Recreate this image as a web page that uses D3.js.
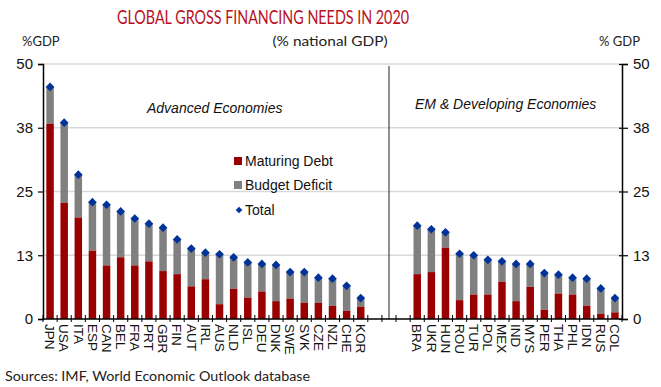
<!DOCTYPE html>
<html>
<head>
<meta charset="utf-8">
<script src="https://cdn.jsdelivr.net/npm/d3@7"></script>
<style>
  body { margin: 0; background: #fff; }
  svg { display: block; }
</style>
</head>
<body>
<svg width="661" height="387"></svg>
<script>
// Countries, in chart order (advanced, then EM)
var advanced = ["JPN","USA","ITA","ESP","CAN","BEL","FRA","PRT","GBR","FIN","AUT","IRL","AUS","NLD","ISL","DEU","DNK","SWE","SVK","CZE","NZL","CHE","KOR"];
var emerging = ["BRA","UKR","HUN","ROU","TUR","POL","MEX","IND","MYS","PER","THA","PHL","IDN","RUS","COL"];
var gaps = ["_g1","_g2","_g3"];

// % of GDP
var maturingAdv = [38.3,22.8,19.9,13.4,10.5,12.1,10.5,11.3,9.4,8.8,6.4,7.8,2.9,5.9,4.2,5.4,3.5,4.0,3.2,3.2,2.6,1.6,2.4];
var totalAdv    = [45.5,38.5,28.3,22.9,22.4,21.1,19.7,18.7,17.9,15.6,13.8,13.0,12.7,12.1,11.1,10.8,10.6,9.2,9.2,8.1,7.9,6.5,4.1];
var maturingEm  = [8.8,9.2,14.0,3.7,4.8,4.8,7.3,3.5,6.3,1.8,5.0,4.8,2.6,1.0,1.3];
var totalEm     = [18.3,17.6,17.0,12.8,12.5,11.6,11.3,10.8,10.8,9.0,8.7,8.1,7.9,6.0,4.1];

var yTicks = [0, 12.5, 25, 37.5, 50];

var svg = d3.select("svg"),
    margin = {top: 64, right: 39, bottom: 68, left: 43},
    width = +svg.attr("width") - margin.left - margin.right,
    height = +svg.attr("height") - margin.top - margin.bottom;

var rows = advanced.map(function(c, i) { return {c: c, m: maturingAdv[i], t: totalAdv[i]}; })
  .concat(emerging.map(function(c, i) { return {c: c, m: maturingEm[i], t: totalEm[i]}; }));

var slots = advanced.concat(gaps, emerging);

var x = d3.scaleBand().domain(slots).range([0, width]).paddingInner(0.47).paddingOuter(0.235);
var y = d3.scaleLinear().domain([0, 50]).range([height, 0]);

var g = svg.append("g").attr("transform", "translate(" + margin.left + "," + margin.top + ")");

// title + header texts
svg.append("text")
    .attr("x", 263).attr("y", 24)
    .attr("text-anchor", "middle")
    .attr("fill", "#b8101e")
    .attr("font-family", "Lato, 'Open Sans', sans-serif")
    .attr("font-size", 20)
    .attr("textLength", 292).attr("lengthAdjust", "spacingAndGlyphs")
    .text("GLOBAL GROSS FINANCING NEEDS IN 2020");

var head = svg.append("g").attr("font-family", "Lato, 'Open Sans', sans-serif").attr("font-size", 13).attr("fill", "#222");
head.append("text").attr("x", 22).attr("y", 46).text("%GDP");
head.append("text").attr("x", 330).attr("y", 46).attr("text-anchor", "middle")
    .attr("textLength", 115).attr("lengthAdjust", "spacingAndGlyphs").text("(% national GDP)");
head.append("text").attr("x", 640).attr("y", 46).attr("text-anchor", "end").text("% GDP");

// gridlines
g.append("g").selectAll("line")
  .data(yTicks.slice(1))
  .join("line")
    .attr("x1", 0).attr("x2", width)
    .attr("y1", function(d) { return y(d); }).attr("y2", function(d) { return y(d); })
    .attr("stroke", "#d9d9d9").attr("stroke-width", 1.5);

// section divider
var divX = x("_g2") + x.bandwidth() / 2;
g.append("line")
    .attr("x1", divX).attr("x2", divX)
    .attr("y1", y(50) + 2).attr("y2", y(0))
    .attr("stroke", "#222").attr("stroke-width", 1);

// bars: deficit on top of maturing debt
var bars = g.append("g").selectAll("g").data(rows).join("g");
bars.append("rect")
    .attr("x", function(d) { return x(d.c); })
    .attr("width", x.bandwidth())
    .attr("y", function(d) { return y(d.t); })
    .attr("height", function(d) { return y(d.m) - y(d.t); })
    .attr("fill", "#808080");
bars.append("rect")
    .attr("x", function(d) { return x(d.c); })
    .attr("width", x.bandwidth())
    .attr("y", function(d) { return y(d.m); })
    .attr("height", function(d) { return y(0) - y(d.m); })
    .attr("fill", "#990000");

// totals
var diamond = d3.symbol().type(d3.symbolDiamond2).size(48);
g.append("g").selectAll("path").data(rows).join("path")
    .attr("d", diamond)
    .attr("transform", function(d) { return "translate(" + (x(d.c) + x.bandwidth() / 2) + "," + y(d.t) + ")"; })
    .attr("fill", "#003399");

// x axis line + boundary ticks
g.append("line").attr("x1", 0).attr("x2", width).attr("y1", height).attr("y2", height)
    .attr("stroke", "#000").attr("stroke-width", 1.5);
g.append("g").selectAll("line")
  .data(d3.range(slots.length + 1))
  .join("line")
    .attr("x1", function(i) { return i * x.step(); })
    .attr("x2", function(i) { return i * x.step(); })
    .attr("y1", height - 4).attr("y2", height + 3)
    .attr("stroke", "#000").attr("stroke-width", 1);

// country labels, rotated
g.append("g").selectAll("text").data(rows).join("text")
    .attr("transform", function(d) { return "translate(" + (x(d.c) + x.bandwidth() / 2) + "," + (height + 5) + ") rotate(90)"; })
    .attr("dy", "0.35em")
    .attr("font-family", "'Liberation Sans', Arial, sans-serif")
    .attr("font-size", 13.5)
    .attr("fill", "#111")
    .text(function(d) { return d.c; });

// y axes, left and right
var fmt = function(d) { return Math.round(d); };
var yl = g.append("g").call(d3.axisLeft(y).tickValues(yTicks).tickFormat(fmt).tickSize(5).tickPadding(5));
var yr = g.append("g").attr("transform", "translate(" + width + ",0)")
    .call(d3.axisRight(y).tickValues(yTicks).tickFormat(fmt).tickSize(6).tickPadding(5));
[yl, yr].forEach(function(ax) {
  ax.select(".domain").attr("stroke", "#000").attr("stroke-width", 1.5);
  ax.selectAll(".tick line").attr("stroke", "#000").attr("stroke-width", 1.2);
  ax.selectAll("text").attr("font-family", "'Liberation Sans', Arial, sans-serif").attr("font-size", 15).attr("fill", "#111");
});
yr.selectAll(".tick line").attr("x1", -3);

// section labels
var sect = g.append("g").attr("font-family", "'Liberation Sans', Arial, sans-serif").attr("font-size", 14)
    .attr("font-style", "italic").attr("fill", "#111");
sect.append("text").attr("x", 104).attr("y", 49).text("Advanced Economies");
sect.append("text").attr("x", 372).attr("y", 45).text("EM & Developing Economies");

// legend
var legend = svg.append("g").attr("font-family", "'Liberation Sans', Arial, sans-serif").attr("font-size", 14).attr("fill", "#111");
var items = [
  {label: "Maturing Debt", color: "#990000", y: 161},
  {label: "Budget Deficit", color: "#808080", y: 185}
];
items.forEach(function(it) {
  legend.append("rect").attr("x", 234).attr("y", it.y - 4).attr("width", 8).attr("height", 8).attr("fill", it.color);
  legend.append("text").attr("x", 245).attr("y", it.y).attr("dy", "0.35em").text(it.label);
});
legend.append("path").attr("d", d3.symbol().type(d3.symbolDiamond2).size(28))
    .attr("transform", "translate(239,210)").attr("fill", "#003399");
legend.append("text").attr("x", 245).attr("y", 210).attr("dy", "0.35em").text("Total");

// source note
svg.append("text")
    .attr("x", 5).attr("y", 381)
    .attr("font-family", "Lato, 'Open Sans', sans-serif")
    .attr("font-size", 13.5)
    .attr("fill", "#222")
    .attr("textLength", 305).attr("lengthAdjust", "spacingAndGlyphs")
    .text("Sources: IMF, World Economic Outlook database");
</script>
</body>
</html>
